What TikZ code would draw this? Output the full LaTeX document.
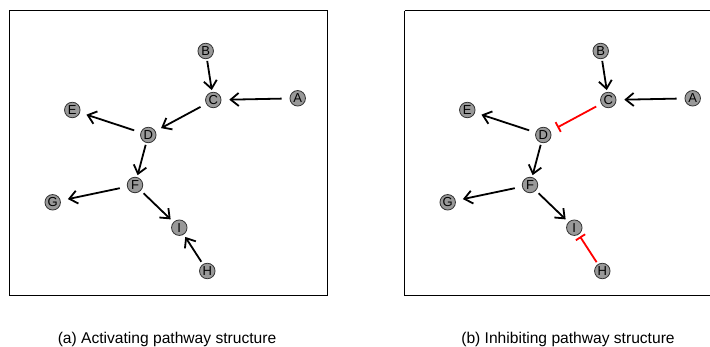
\documentclass[tikz,border=0pt]{standalone}
\usepackage{fontspec}
\setmainfont{Liberation Sans}
\usetikzlibrary{arrows.meta}
\definecolor{nodegray}{HTML}{999999}
\tikzset{
  gnode/.style={circle, draw=black!80, line width=0.8pt, fill=nodegray, minimum size=15.5pt, inner sep=0pt, font=\fontsize{13}{13}\selectfont},
  act/.style={line width=1.8pt, -{Straight Barb[length=8pt,width=13pt,line width=1.8pt]}, shorten <=#1, shorten >=#1},
  inh/.style={line width=1.8pt, red, -{Bar[width=11pt,line width=1.8pt]}, shorten <=#1, shorten >=#1},
  panel/.style={line width=1pt, draw=black},
  captext/.style={font=\fontsize{15.6}{16}\selectfont}
}
\begin{document}
\begin{tikzpicture}[x=1pt,y=-1pt]
\useasboundingbox (0,0) rectangle (710,347);
\fill[white] (0,0) rectangle (710,347);
% panel a
\draw[panel] (9.5,11) rectangle (327,296);
\foreach \n/\x/\y in {B/205.7/51, C/213.3/100, A/297.7/98.3, E/72.3/110, D/148.3/135, F/135/185, G/52.7/202.3, I/179.3/227.7, H/207.3/271}
  \node[gnode] (a\n) at (\x,\y) {\n};
\draw[act=10pt] (aB.center) -- (aC.center);
\draw[act=16pt] (aA.center) -- (aC.center);
\draw[act=14.5pt] (aC.center) -- (aD.center);
\draw[act=14.9pt] (aD.center) -- (aE.center);
\draw[act=10.2pt] (aD.center) -- (aF.center);
\draw[act=15.5pt] (aF.center) -- (aG.center);
\draw[act=12pt] (aF.center) -- (aI.center);
\draw[act=11pt] (aH.center) -- (aI.center);
\node[captext] (capa) at (167,339) {(a) Activating pathway structure};
% panel b
\draw[panel] (404.5,11) -- (404.5,296) -- (725,296);
\draw[panel] (404.5,11) -- (725,11);
\foreach \n/\x/\y in {B/205.7/51, C/213.3/100, A/297.7/98.3, E/72.3/110, D/148.3/135, F/135/185, G/52.7/202.3, I/179.3/227.7, H/207.3/271}
  \node[gnode] (b\n) at (\x+395,\y) {\n};
\draw[act=10pt] (bB.center) -- (bC.center);
\draw[act=16pt] (bA.center) -- (bC.center);
\draw[inh=13.8pt, shorten >=16pt] (bC.center) -- (bD.center);
\draw[act=14.9pt] (bD.center) -- (bE.center);
\draw[act=10.2pt] (bD.center) -- (bF.center);
\draw[act=15.5pt] (bF.center) -- (bG.center);
\draw[act=12pt] (bF.center) -- (bI.center);
\draw[inh=10.5pt] (bH.center) -- (bI.center);
\node[captext] (capb) at (568,339) {(b) Inhibiting pathway structure};
\end{tikzpicture}
\end{document}
